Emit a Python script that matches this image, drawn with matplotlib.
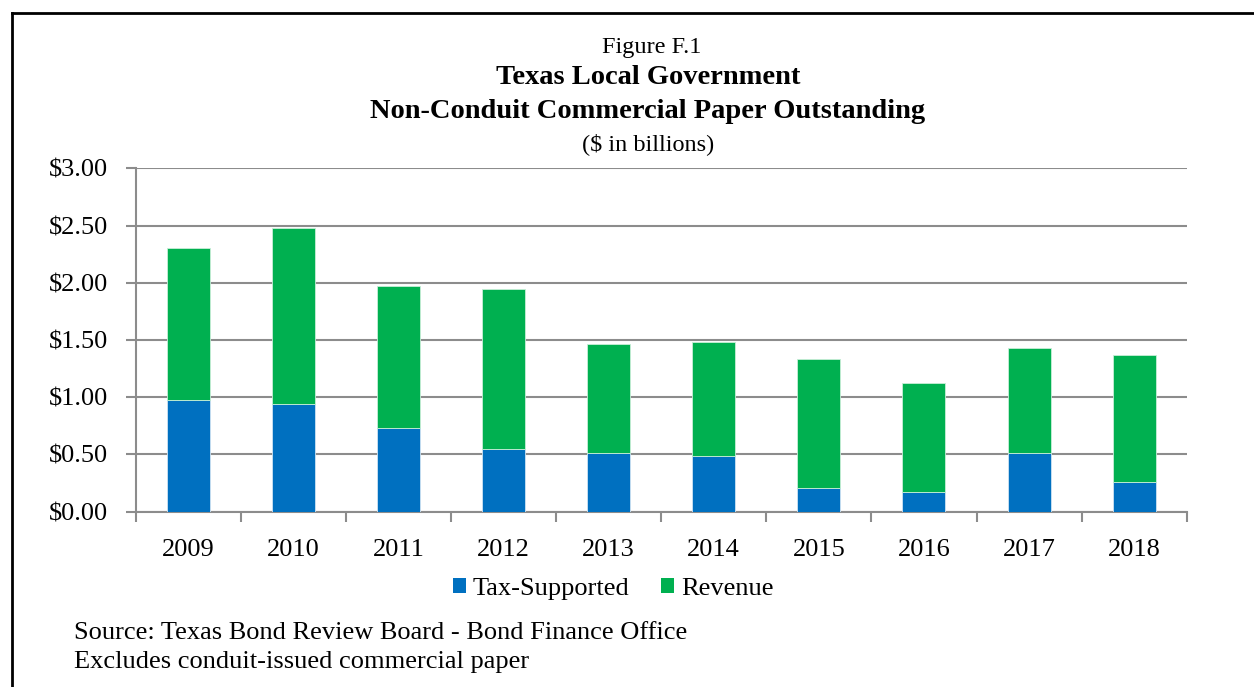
import matplotlib
matplotlib.use("Agg")
import matplotlib.pyplot as plt
from matplotlib.lines import Line2D
from matplotlib.patches import Patch
import numpy as np

years = ["2009", "2010", "2011", "2012", "2013", "2014", "2015", "2016", "2017", "2018"]
tax_supported = [0.976, 0.943, 0.728, 0.548, 0.515, 0.484, 0.204, 0.172, 0.515, 0.257]
total_outstanding = [2.30, 2.48, 1.974, 1.942, 1.465, 1.485, 1.334, 1.121, 1.433, 1.366]
revenue = [round(t - s, 3) for t, s in zip(total_outstanding, tax_supported)]
y_ticks = [0.0, 0.5, 1.0, 1.5, 2.0, 2.5, 3.0]
y_tick_labels = ["$0.00", "$0.50", "$1.00", "$1.50", "$2.00", "$2.50", "$3.00"]

BLUE = "#0070C0"
GREEN = "#00B050"
GRID = "#8c8c8c"

plt.rcParams["font.family"] = ["Liberation Serif", "DejaVu Serif"]

W, H = 1254, 687
fig = plt.figure(figsize=(W / 100, H / 100), dpi=100)
fig.patch.set_facecolor("white")

ax = fig.add_axes([135.7 / W, 1 - 511.7 / H, (1186.7 - 135.7) / W, (511.7 - 168.3) / H])

x = np.arange(len(years))
ax.bar(x, tax_supported, width=0.41, color=BLUE, edgecolor="#cfe3f3", linewidth=0.6, zorder=3)
ax.bar(x, revenue, width=0.41, bottom=tax_supported, color=GREEN, edgecolor="#c8eed8",
       linewidth=0.6, zorder=3)

ax.set_xlim(-0.5, len(years) - 0.5)
ax.set_ylim(0, 3.0)
ax.set_yticks(y_ticks)
ax.set_yticklabels(y_tick_labels, fontsize=19)
ax.set_xticks(x)
ax.set_xticklabels(years, fontsize=19)
ax.set_xticks(np.arange(-0.5, len(years)), minor=True)

ax.tick_params(axis="x", which="major", length=0, pad=20)
ax.tick_params(axis="x", which="minor", length=7, width=1.5, color=GRID, direction="out")
ax.tick_params(axis="y", which="major", length=7, width=1.5, color=GRID, direction="out", pad=13)

ax.yaxis.grid(True, color=GRID, linewidth=1.5, zorder=0)
ax.set_axisbelow(True)
for side in ("top", "right"):
    ax.spines[side].set_visible(False)
for side in ("left", "bottom"):
    ax.spines[side].set_color(GRID)
    ax.spines[side].set_linewidth(1.5)

# Titles
fig.text(652 / W, 1 - 47 / H, "Figure F.1", ha="center", va="center", fontsize=17.5)
fig.text(648 / W, 1 - 77 / H, "Texas Local Government", ha="center", va="center",
         fontsize=20.5, fontweight="bold")
fig.text(648 / W, 1 - 112 / H, "Non-Conduit Commercial Paper Outstanding", ha="center",
         va="center", fontsize=20.5, fontweight="bold")
fig.text(648 / W, 1 - 144 / H, "($ in billions)", ha="center", va="center", fontsize=17.5)

# Legend
handles = [Patch(facecolor=BLUE, edgecolor="none"), Patch(facecolor=GREEN, edgecolor="none")]
fig.legend(handles, ["Tax-Supported", "Revenue"], loc="center", ncol=2,
           bbox_to_anchor=(613 / W, 1 - 589 / H), frameon=False, fontsize=19,
           handlelength=0.5, handleheight=0.5, handletextpad=0.25, columnspacing=1.2)

# Footnotes
fig.text(74 / W, 1 - 633 / H, "Source: Texas Bond Review Board - Bond Finance Office",
         ha="left", va="center", fontsize=19)
fig.text(74 / W, 1 - 662 / H, "Excludes conduit-issued commercial paper",
         ha="left", va="center", fontsize=19)

# Outer frame
fig.add_artist(Line2D([12 / W, 12 / W], [0, 1 - 12.5 / H], transform=fig.transFigure,
                      color="black", linewidth=2))
fig.add_artist(Line2D([12 / W, 1], [1 - 12.5 / H, 1 - 12.5 / H], transform=fig.transFigure,
                      color="black", linewidth=2))

fig.savefig("out.png", dpi=100, facecolor="white")
